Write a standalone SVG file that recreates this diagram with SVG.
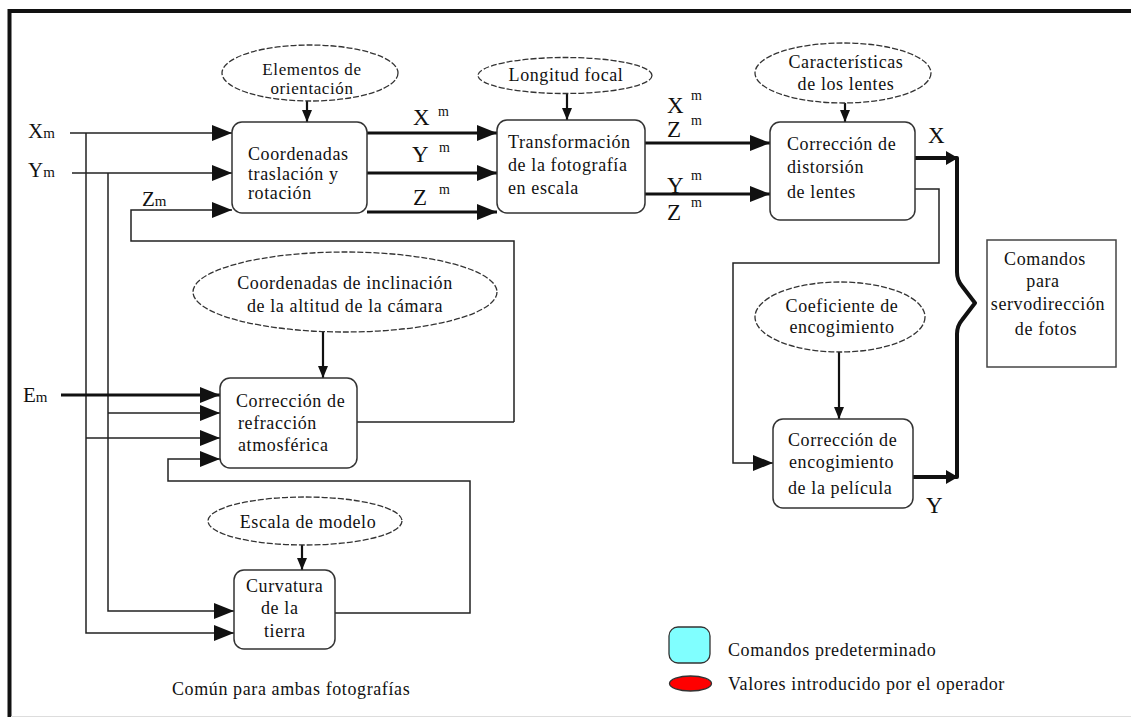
<svg xmlns="http://www.w3.org/2000/svg" width="1131" height="720" viewBox="0 0 1131 720" font-family="'Liberation Serif', 'Times New Roman', 'DejaVu Serif', serif">
<style>
text{font-family:'Liberation Serif','Times New Roman','DejaVu Serif',serif;fill:#111;}
.t{font-size:18px;letter-spacing:0.6px;}
.e{font-size:17px;letter-spacing:0.6px;}
.c{text-anchor:middle;}
.big{font-size:23px;}
.sup{font-size:14px;}
.lab{font-size:21px;}
.sub{font-size:15px;}
.box{fill:#fff;stroke:#333;stroke-width:1.5;}
.ell{fill:#fff;stroke:#333;stroke-width:1.3;stroke-dasharray:6 2;}
.ln{fill:none;stroke:#222;stroke-width:1.5;}
.thk{fill:none;stroke:#111;stroke-width:3;}
.med{fill:none;stroke:#111;stroke-width:2.2;}
</style>
<defs>
<marker id="ab" markerUnits="userSpaceOnUse" markerWidth="22" markerHeight="18" refX="20" refY="8" orient="auto"><path d="M0,0 L20,8 L0,16 z" fill="#111"/></marker>
<marker id="as" markerUnits="userSpaceOnUse" markerWidth="14" markerHeight="12" refX="12" refY="5" orient="auto"><path d="M0,0 L12,5 L0,10 z" fill="#111"/></marker>
</defs>
<rect x="0" y="0" width="1131" height="720" fill="#fff"/>
<g id="frame">
<line x1="8" y1="11" x2="1131" y2="11" stroke="#111" stroke-width="4"/>
<line x1="9.5" y1="9" x2="9.5" y2="717" stroke="#111" stroke-width="4"/>
<line x1="11" y1="716.5" x2="1131" y2="716.5" stroke="#ddd" stroke-width="1"/>
</g>
<g id="connectors">
<path class="ln" d="M70,133 L232,133" marker-end="url(#ab)"/>
<path class="ln" d="M72,173 L232,173" marker-end="url(#ab)"/>
<path class="ln" d="M514,422 L514,241 L131,241 L131,210 L232,210" marker-end="url(#ab)"/>
<path class="ln" d="M357,422 L514,422"/>
<path class="ln" d="M86,133 L86,633 L234,633" marker-end="url(#ab)"/>
<path class="ln" d="M108,173 L108,611 L234,611" marker-end="url(#ab)"/>
<path class="ln" d="M86,438 L220,438" marker-end="url(#ab)"/>
<path class="ln" d="M108,413 L220,413" marker-end="url(#ab)"/>
<path class="thk" d="M61,395 L220,395" marker-end="url(#ab)"/>
<path class="ln" d="M335,613 L470,613 L470,481 L168,481 L168,459 L220,459" marker-end="url(#ab)"/>
<path class="thk" d="M367,133 L497,133" marker-end="url(#ab)"/>
<path class="thk" d="M367,173 L497,173" marker-end="url(#ab)"/>
<path class="thk" d="M367,212 L497,212" marker-end="url(#ab)"/>
<path class="thk" d="M645,143 L770,143" marker-end="url(#ab)"/>
<path class="thk" d="M645,194 L770,194" marker-end="url(#ab)"/>
<path class="ln" d="M915,189 L939,189 L939,263 L733,263 L733,463 L773,463" marker-end="url(#ab)"/>
<path class="med" d="M307,101 L307,122" marker-end="url(#as)"/>
<path class="med" d="M567,93 L567,120" marker-end="url(#as)"/>
<path class="med" d="M845,103 L845,122" marker-end="url(#as)"/>
<path class="med" d="M323,332 L323,378" marker-end="url(#as)"/>
<path class="med" d="M839,352 L839,419" marker-end="url(#as)"/>
<path class="med" d="M302,545 L302,570" marker-end="url(#as)"/>
<path d="M913,158 L957,158 L957,272 Q957,280 962,286 L975,303 L962,320 Q957,326 957,334 L957,477 L913,477" fill="none" stroke="#111" stroke-width="4" stroke-linejoin="round"/>
<path d="M946,151 L958,158 L946,165 z" fill="#111"/>
<path d="M946,470 L958,477 L946,484 z" fill="#111"/>
</g>
<g id="labels">
<text class="lab" x="28" y="138">X<tspan class="sub">m</tspan></text>
<text class="lab" x="28" y="177">Y<tspan class="sub">m</tspan></text>
<text class="lab" x="142" y="206">Z<tspan class="sub">m</tspan></text>
<text class="lab" x="23" y="402">E<tspan class="sub">m</tspan></text>
<text class="big" x="413" y="125">X</text><text class="sup" x="438" y="116">m</text>
<text class="big" x="412" y="162">Y</text><text class="sup" x="439" y="152">m</text>
<text class="big" x="413" y="205">Z</text><text class="sup" x="439" y="194">m</text>
<text class="big" x="667" y="113">X</text><text class="sup" x="691" y="100">m</text>
<text class="big" x="667" y="137">Z</text><text class="sup" x="691" y="125">m</text>
<text class="big" x="667" y="193">Y</text><text class="sup" x="691" y="180">m</text>
<text class="big" x="667" y="220">Z</text><text class="sup" x="691" y="207">m</text>
<text class="big" x="928" y="143">X</text>
<text class="big" x="926" y="513">Y</text>
</g>
<g id="n-elementos">
<ellipse class="ell" cx="310" cy="73" rx="88" ry="28"/>
<text class="e c" x="312" y="75">Elementos de</text>
<text class="e c" x="312" y="94">orientación</text>
</g>
<g id="n-coordenadas">
<rect class="box" x="232" y="122" width="135" height="91" rx="10"/>
<text class="t" x="248" y="160">Coordenadas</text>
<text class="t" x="248" y="180">traslación y</text>
<text class="t" x="248" y="199">rotación</text>
</g>
<g id="n-longitud">
<ellipse class="ell" cx="565" cy="75.5" rx="87" ry="18"/>
<text class="t c" x="566" y="81">Longitud focal</text>
</g>
<g id="n-transformacion">
<rect class="box" x="497" y="120" width="148" height="93" rx="10"/>
<text class="t" x="508" y="148">Transformación</text>
<text class="t" x="508" y="171">de la fotografía</text>
<text class="t" x="508" y="194">en escala</text>
</g>
<g id="n-caracteristicas">
<ellipse class="ell" cx="843" cy="73" rx="88" ry="30"/>
<text class="t c" x="846" y="68">Características</text>
<text class="t c" x="846" y="90">de los lentes</text>
</g>
<g id="n-distorsion">
<rect class="box" x="770" y="122" width="145" height="98" rx="10"/>
<text class="t" x="787" y="150">Corrección de</text>
<text class="t" x="787" y="173">distorsión</text>
<text class="t" x="787" y="198">de lentes</text>
</g>
<g id="n-comandos">
<rect x="987" y="240" width="129" height="127" fill="#fff" stroke="#444" stroke-width="1.5"/>
<text class="t c" x="1045" y="265">Comandos</text>
<text class="t c" x="1043" y="287">para</text>
<text class="t c" x="1048" y="310">servodirección</text>
<text class="t c" x="1046" y="335">de fotos</text>
</g>
<g id="n-inclinacion">
<ellipse class="ell" cx="345" cy="292" rx="152" ry="40"/>
<text class="t c" x="345" y="289">Coordenadas de inclinación</text>
<text class="t c" x="345" y="312">de la altitud de la cámara</text>
</g>
<g id="n-refraccion">
<rect class="box" x="220" y="378" width="137" height="90" rx="10"/>
<text class="t" x="236" y="407">Corrección de</text>
<text class="t" x="238" y="429">refracción</text>
<text class="t" x="238" y="451">atmosférica</text>
</g>
<g id="n-coeficiente">
<ellipse class="ell" cx="840" cy="317" rx="85" ry="35"/>
<text class="t c" x="842" y="312">Coeficiente de</text>
<text class="t c" x="842" y="333">encogimiento</text>
</g>
<g id="n-encogimiento">
<rect class="box" x="773" y="419" width="140" height="89" rx="10"/>
<text class="t" x="788" y="446">Corrección de</text>
<text class="t" x="789" y="468">encogimiento</text>
<text class="t" x="788" y="494">de la película</text>
</g>
<g id="n-escala">
<ellipse class="ell" cx="305" cy="521" rx="97" ry="24"/>
<text class="t c" x="308" y="528">Escala de modelo</text>
</g>
<g id="n-curvatura">
<rect class="box" x="234" y="570" width="101" height="79" rx="10"/>
<text class="t" x="246" y="592">Curvatura</text>
<text class="t" x="261" y="614">de la</text>
<text class="t" x="264" y="637">tierra</text>
</g>
<g id="footer">
<text class="t" x="172" y="695">Común para ambas fotografías</text>
</g>
<g id="legend">
<rect x="669" y="627" width="41" height="36" rx="9" fill="#80ffff" stroke="#333" stroke-width="1.3"/>
<text class="t" x="728" y="656">Comandos predeterminado</text>
<ellipse cx="690.5" cy="683.5" rx="21" ry="7.5" fill="#ff0000" stroke="#333" stroke-width="1.3"/>
<text class="t" x="728" y="690">Valores introducido por el operador</text>
</g>
</svg>
